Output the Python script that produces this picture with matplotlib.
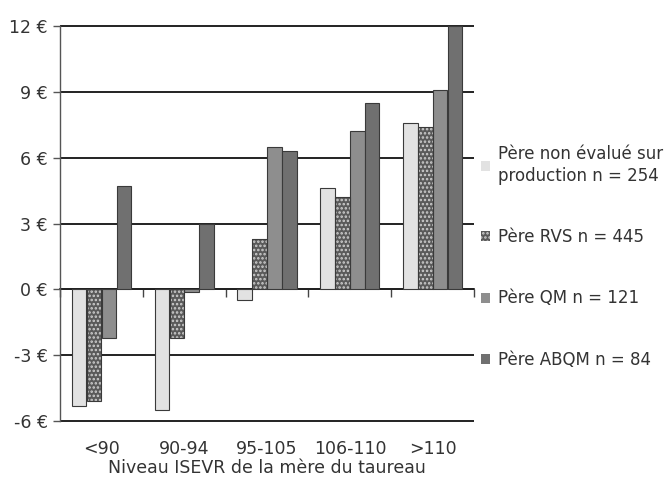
import numpy as np
import matplotlib
matplotlib.use("Agg")
import matplotlib.pyplot as plt
from matplotlib.patches import Patch

categories = ["<90", "90-94", "95-105", "106-110", ">110"]
series_names = ["Père non évalué sur\nproduction n = 254", "Père RVS n = 445",
                "Père QM n = 121", "Père ABQM n = 84"]
non_evalue = [-5.3, -5.5, -0.5, 4.6, 7.6]
rvs = [-5.1, -2.2, 2.3, 4.2, 7.4]
qm = [-2.2, -0.1, 6.5, 7.2, 9.1]
abqm = [4.7, 3.0, 6.3, 8.5, 12.0]
yticks = [-6, -3, 0, 3, 6, 9, 12]
ytick_labels = ["-6 €", "-3 €", "0 €", "3 €", "6 €", "9 €", "12 €"]
xlabel = "Niveau ISEVR de la mère du taureau"

plt.rcParams['font.family'] = ['DejaVu Sans']
plt.rcParams['hatch.linewidth'] = 1.2
fig = plt.figure(figsize=(6.69, 4.86), dpi=100)
ax = fig.add_axes([0.0897, 0.1292, 0.619, 0.8218])

x = np.arange(len(categories))
w = 0.175
offs = [-0.27, -0.09, 0.09, 0.27]
edge = "#3a3a3a"

ax.bar(x + offs[0], non_evalue, w, color="#e2e2e2", edgecolor=edge, linewidth=0.8, zorder=3)
ax.bar(x + offs[1], rvs, w, color="#5a5a5a", edgecolor="#cfcfcf", hatch="....", linewidth=0, zorder=3)
ax.bar(x + offs[1], rvs, w, fill=False, edgecolor=edge, linewidth=0.8, zorder=4)
ax.bar(x + offs[2], qm, w, color="#8e8e8e", edgecolor=edge, linewidth=0.8, zorder=3)
ax.bar(x + offs[3], abqm, w, color="#707070", edgecolor=edge, linewidth=0.8, zorder=3)

ax.set_xlim(-0.5, len(categories) - 0.5)
ax.set_ylim(-6.1, 12.1)
ax.set_yticks(yticks)
ax.set_yticklabels(ytick_labels, fontsize=12.5, color="#333333")
ax.grid(axis="y", color="#222222", linewidth=1.4, zorder=1)
ax.set_axisbelow(True)
ax.tick_params(axis="y", length=5, width=1, color="#555555", pad=4)

for s in ["top", "right", "bottom"]:
    ax.spines[s].set_visible(False)
ax.spines["left"].set_color("#555555")
ax.spines["left"].set_linewidth(1.0)
ax.spines["left"].set_bounds(-6, 12)

ax.set_xticks(x)
ax.set_xticklabels(categories, fontsize=12.5, color="#333333")
ax.tick_params(axis="x", length=0, pad=12)
ax.set_xlabel(xlabel, fontsize=12.5, color="#333333", labelpad=1)

# zero-line axis with ticks at category boundaries
ymin, ymax = ax.get_ylim()
sec = ax.secondary_xaxis((0 - ymin) / (ymax - ymin))
sec.set_xticks(np.arange(len(categories) + 1) - 0.5)
sec.xaxis.set_ticks_position("bottom")
sec.tick_params(axis="x", direction="out", length=6, width=1, color="#444444", labelbottom=False, labeltop=False)
for s in sec.spines.values():
    s.set_visible(False)
sec.spines["bottom"].set_visible(True)
sec.spines["bottom"].set_color("#333333")
sec.spines["bottom"].set_linewidth(1.3)

handles = [
    Patch(facecolor="#e2e2e2", edgecolor="none"),
    Patch(facecolor="#5a5a5a", edgecolor="#cfcfcf", hatch="....", linewidth=0),
    Patch(facecolor="#8e8e8e", edgecolor="none"),
    Patch(facecolor="#707070", edgecolor="none"),
]
leg = ax.legend(handles, series_names, loc="center left", bbox_to_anchor=(1.0, 0.416),
                frameon=False, fontsize=12, handlelength=0.55, handleheight=0.55,
                handletextpad=0.5, labelspacing=2.6, borderaxespad=0.0)
for t in leg.get_texts():
    t.set_color("#333333")
    t.set_linespacing(1.25)

fig.savefig("out.png", dpi=100)
